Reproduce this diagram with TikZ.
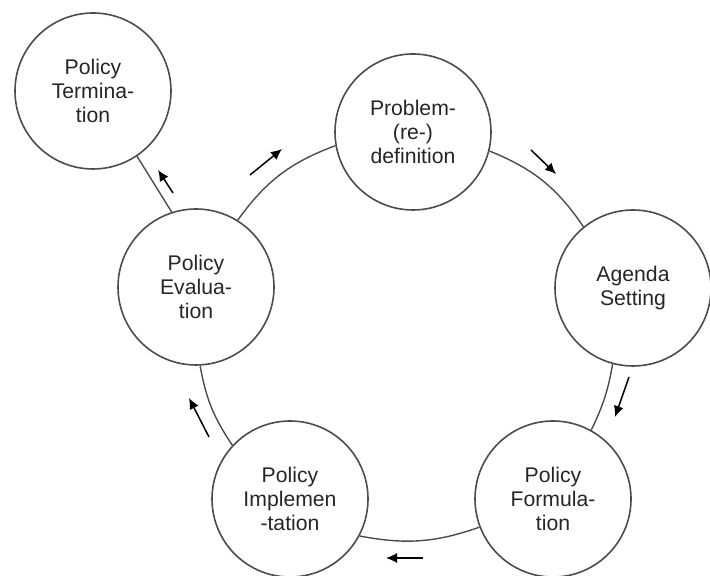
\documentclass[tikz,border=0pt]{standalone}
\usepackage{fontspec}
\setmainfont{Liberation Sans}
\usetikzlibrary{arrows.meta}

\tikzstyle{stage}=[circle, draw=black!70, line width=0.8pt, fill=white, minimum size=78pt, inner sep=0pt, align=center, text=black!85, font=\fontsize{10.6}{12.2}\selectfont]
\tikzstyle{link}=[draw=black!70, line width=0.7pt]
\tikzstyle{flow}=[-{Latex[length=5.5pt,width=5pt]}, line width=0.75pt]

\begin{document}
\begin{tikzpicture}[x=0.5pt, y=0.5pt]
            \useasboundingbox (0,0) rectangle (710,576);
            \node[stage] at (93,485) (T) {Policy\\Termina-\\tion};
            \node[stage] at (413,444) (P) {Problem-\\(re-)\\definition};
            \node[stage] at (633,288) (A) {Agenda\\Setting};
            \node[stage] at (553,77) (F) {Policy\\Formula-\\tion};
            \node[stage] at (290,77) (I) {Policy\\Implemen\\-tation};
            \node[stage] at (196,289) (E) {Policy\\Evalua-\\tion};
            % cycle
            \draw[link] (E.58) to[bend left=17] (P.190);
            \draw[link] (P.-14) to[bend left=17] (A.129);
            \draw[link] (A.-105) to[bend left=8] (F.61);
            \draw[link] (F.201) to[bend left=15] (I.-28);
            \draw[link] (I.137) to[bend left=12] (E.-87);
            \draw[link] (E.108) -- (T.-56);
            % direction marks
            \draw[flow] (250,401) -- (282,427);
            \draw[flow] (531,426) -- (556,402);
            \draw[flow] (629,199) -- (615,159);
            \draw[flow] (423,18) -- (386,18);
            \draw[flow] (209,139) -- (189,178);
            \draw[flow] (173,383) -- (158,406);
        \end{tikzpicture}
\end{document}
